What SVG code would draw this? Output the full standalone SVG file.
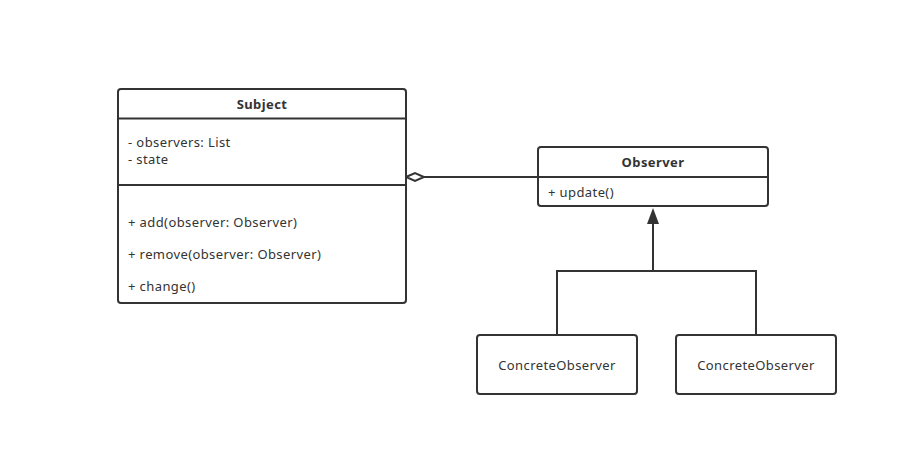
<svg xmlns="http://www.w3.org/2000/svg" width="897" height="456" viewBox="0 0 897 456">
<style>
.box{fill:#fff;stroke:#333;stroke-width:2}
.ln{stroke:#333;stroke-width:2;fill:none}
text{font-family:"Noto Sans","DejaVu Sans",sans-serif;font-size:13px;letter-spacing:0.4px;fill:#333}
.b{font-weight:bold;text-anchor:middle}
.c{text-anchor:middle}
</style>
<rect width="897" height="456" fill="#fff"/>
<g id="connectors">
<path class="ln" d="M538,177 L424,177"/>
<path d="M406,177 L415,173 L424,177 L415,181 Z" fill="#fff" stroke="#333" stroke-width="2"/>
<path class="ln" d="M557,335 L557,271 L756,271 L756,335"/>
<path class="ln" d="M653,271 L653,222"/>
<path d="M653,208 L659,224 L647,224 Z" fill="#333"/>
</g>
<g id="subject">
<rect class="box" x="118" y="89" width="288" height="214" rx="3"/>
<line class="ln" x1="118" y1="118.5" x2="406" y2="118.5"/>
<line class="ln" x1="118" y1="185" x2="406" y2="185"/>
<text class="b" x="262" y="109">Subject</text>
<text x="128" y="147">- observers: List</text>
<text x="128" y="164">- state</text>
<text x="128" y="227">+ add(observer: Observer)</text>
<text x="128" y="259">+ remove(observer: Observer)</text>
<text x="128" y="291">+ change()</text>
</g>
<g id="observer">
<rect class="box" x="538" y="147" width="230" height="59" rx="3"/>
<line class="ln" x1="538" y1="177" x2="768" y2="177"/>
<text class="b" x="653" y="167">Observer</text>
<text x="548" y="197">+ update()</text>
</g>
<g id="concrete1">
<rect class="box" x="477" y="335" width="160" height="59" rx="3"/>
<text class="c" x="557" y="370">ConcreteObserver</text>
</g>
<g id="concrete2">
<rect class="box" x="676" y="335" width="160" height="59" rx="3"/>
<text class="c" x="756" y="370">ConcreteObserver</text>
</g>
</svg>
